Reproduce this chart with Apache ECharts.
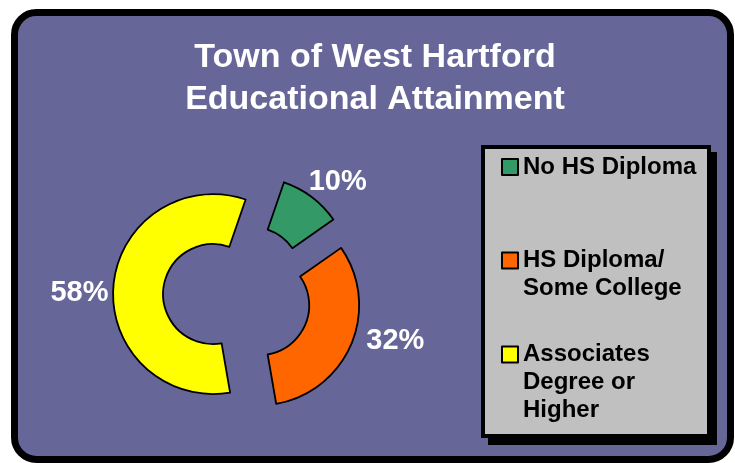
<!DOCTYPE html>
<html><head><meta charset="utf-8">
<script src="https://cdn.jsdelivr.net/npm/echarts@6/dist/echarts.min.js"></script>
<style>html,body{margin:0;padding:0;background:#fff}#c{width:735px;height:463px}</style>
</head><body><div id="c"></div>
<script>
// ---- data ----
const titleLines = ['Town of West Hartford', 'Educational Attainment'];
const categories = ['No HS Diploma', 'HS Diploma/\nSome College', 'Associates\nDegree or\nHigher'];
const values = [10, 32, 58];
const colors = ['#339966', '#FF6600', '#FFFF00'];

// ---- styling ----
const FONT = '"Liberation Sans", Arial, sans-serif';
const labelNudge = [[-17, -3], [-4, -8], [15, 8]];
const legendTops = [153, 218.5, 284.5];

const chart = echarts.init(document.getElementById('c'), null, {renderer: 'canvas'});

// keep the first line of each legend entry level with its swatch
const legendText = name => {
  const extra = name.split('\n').length - 1;
  return '\n'.repeat(extra) + name;
};

const legends = categories.map((name, i) => ({
  orient: 'vertical',
  left: 501,
  top: legendTops[i],
  padding: 0,
  itemWidth: 16,
  itemHeight: 16,
  icon: 'rect',
  selectedMode: false,
  itemStyle: {borderColor: '#000', borderWidth: 2},
  formatter: legendText,
  textStyle: {
    color: '#000', fontSize: 24, fontWeight: 'bold', fontFamily: FONT, lineHeight: 28
  },
  data: [name]
}));

chart.setOption({
  animation: false,
  backgroundColor: '#ffffff',
  graphic: [
    {type: 'rect', z: -30, shape: {x: 14.5, y: 12.5, width: 716, height: 447, r: 22},
     style: {fill: '#666699', stroke: '#000', lineWidth: 7}},
    {type: 'rect', z: -20, shape: {x: 488, y: 152, width: 229, height: 293},
     style: {fill: '#000'}},
    {type: 'rect', z: -10, shape: {x: 483, y: 147, width: 226, height: 289},
     style: {fill: '#C0C0C0', stroke: '#000', lineWidth: 4}}
  ],
  title: {
    text: titleLines.join('\n'),
    left: 375, top: 36.5, padding: 0, textAlign: 'center',
    textStyle: {color: '#fff', fontSize: 34, fontWeight: 'bold', fontFamily: FONT, lineHeight: 42}
  },
  legend: legends,
  series: [{
    type: 'pie',
    center: [237, 296],
    radius: [50, 100],
    startAngle: 71,
    clockwise: true,
    selectedMode: 'multiple',
    selectedOffset: 24,
    avoidLabelOverlap: false,
    emphasis: {disabled: true},
    itemStyle: {borderColor: '#000', borderWidth: 1.8},
    select: {itemStyle: {borderColor: '#000', borderWidth: 1.8}, label: {color: '#fff'}},
    label: {
      show: true, position: 'outside', color: '#fff', fontSize: 29, fontWeight: 'bold',
      fontFamily: FONT, distanceToLabelLine: 5,
      formatter: p => p.value + '%'
    },
    labelLine: {show: false, length: 15, length2: 0},
    labelLayout: p => ({dx: labelNudge[p.dataIndex][0], dy: labelNudge[p.dataIndex][1]}),
    data: categories.map((n, i) => ({
      name: n, value: values[i], selected: true, itemStyle: {color: colors[i]}
    }))
  }]
});
</script></body></html>
